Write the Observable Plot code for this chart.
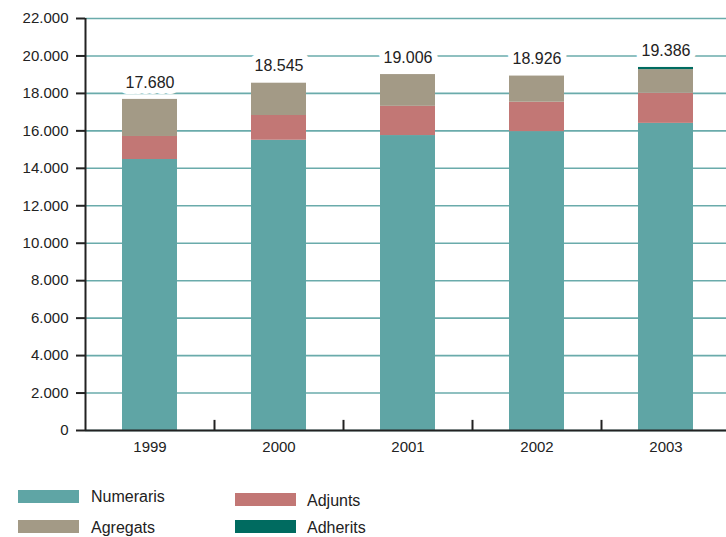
<!DOCTYPE html>
<html>
<head>
<meta charset="utf-8">
<script src="https://cdn.jsdelivr.net/npm/d3@7"></script>
<script src="https://cdn.jsdelivr.net/npm/@observablehq/plot@0.6"></script>
<style>
  html, body { margin: 0; padding: 0; background: #fff; }
  #wrap { position: relative; width: 726px; height: 537px; font-family: "Liberation Sans", Arial, sans-serif; color: #222; }
  #legend { position: relative; width: 726px; height: 67px; }
  .sw { position: absolute; width: 61px; height: 13px; }
  .lt { position: absolute; font-size: 16px; line-height: 16px; }
</style>
</head>
<body>
<div id="wrap"><div id="chart"></div><div id="legend"></div></div>
<script>
const years = ["1999", "2000", "2001", "2002", "2003"];
const numeraris = [14470, 15500, 15750, 15960, 16400];
const adjunts   = [1230, 1320, 1560, 1570, 1610];
const agregats  = [1980, 1725, 1696, 1396, 1260];
const adherits  = [0, 0, 0, 0, 116];
const totals    = [17680, 18545, 19006, 18926, 19386];
const yTicks    = [0, 2000, 4000, 6000, 8000, 10000, 12000, 14000, 16000, 18000, 20000, 22000];
const seriesNames  = ["Numeraris", "Adjunts", "Agregats", "Adherits"];
const seriesColors = ["#5fa5a5", "#c27775", "#a39a86", "#006b60"];

const locale = d3.formatLocale({decimal: ",", thousands: ".", grouping: [3], currency: ["", "€"]});
const fmt = locale.format(",");

const seriesValues = [numeraris, adjunts, agregats, adherits];
const rows = [];
seriesNames.forEach((s, si) => years.forEach((y, i) => rows.push({year: y, series: s, value: seriesValues[si][i]})));
const totalRows = years.map((y, i) => ({year: y, total: totals[i]}));

const xRange = [85, 730];
const step = (xRange[1] - xRange[0]) / years.length;
const font = "Liberation Sans, Arial, sans-serif";

const chart = Plot.plot({
  width: 726,
  height: 470,
  marginLeft: 85,
  marginRight: 0,
  marginTop: 18,
  marginBottom: 40,
  style: {fontFamily: font, fontSize: "15px", color: "#222", background: "#fff"},
  x: {domain: years, range: xRange, paddingInner: 0.574, paddingOuter: 0.287},
  y: {domain: [0, 22000]},
  color: {domain: seriesNames, range: seriesColors},
  marks: [
    Plot.gridY(yTicks, {stroke: "#6aabab", strokeOpacity: 1, strokeWidth: 1.6}),
    Plot.barY(rows, {x: "year", y: "value", fill: "series", order: seriesNames}),
    Plot.text(totalRows, {x: "year", y: "total", text: d => fmt(d.total), dy: -17, lineAnchor: "middle",
      fontSize: 16, fill: "#222", stroke: "white", strokeWidth: 12, paintOrder: "stroke"}),
    Plot.ruleY([0], {stroke: "#222", strokeWidth: 2}),
    Plot.ruleX([years[0]], {dx: -step / 2, y1: 0, y2: 22000, stroke: "#222", strokeWidth: 2}),
    Plot.ruleX(years.slice(0, -1), {dx: step / 2, y1: 0, y2: 540, stroke: "#222", strokeWidth: 2}),
    Plot.axisY(yTicks, {tickFormat: fmt, tickSize: 9, tickPadding: 8, strokeWidth: 2, stroke: "#222", fill: "#222", fontSize: 15, label: null}),
    Plot.axisX({tickSize: 0, tickPadding: 11, fill: "#222", fontSize: 15, label: null})
  ]
});
document.getElementById("chart").appendChild(chart);

// legend
const legendPos = [
  {sx: 18, sy: 20, tx: 91, ty: 19},
  {sx: 235, sy: 23, tx: 307, ty: 23},
  {sx: 18, sy: 50, tx: 91, ty: 50},
  {sx: 235, sy: 50, tx: 307, ty: 50}
];
const legend = document.getElementById("legend");
seriesNames.forEach((name, i) => {
  const p = legendPos[i];
  const sw = document.createElement("div");
  sw.className = "sw";
  sw.style.left = p.sx + "px"; sw.style.top = p.sy + "px";
  sw.style.background = seriesColors[i];
  legend.appendChild(sw);
  const t = document.createElement("div");
  t.className = "lt";
  t.style.left = p.tx + "px"; t.style.top = p.ty + "px";
  t.textContent = name;
  legend.appendChild(t);
});
</script>
</body>
</html>
